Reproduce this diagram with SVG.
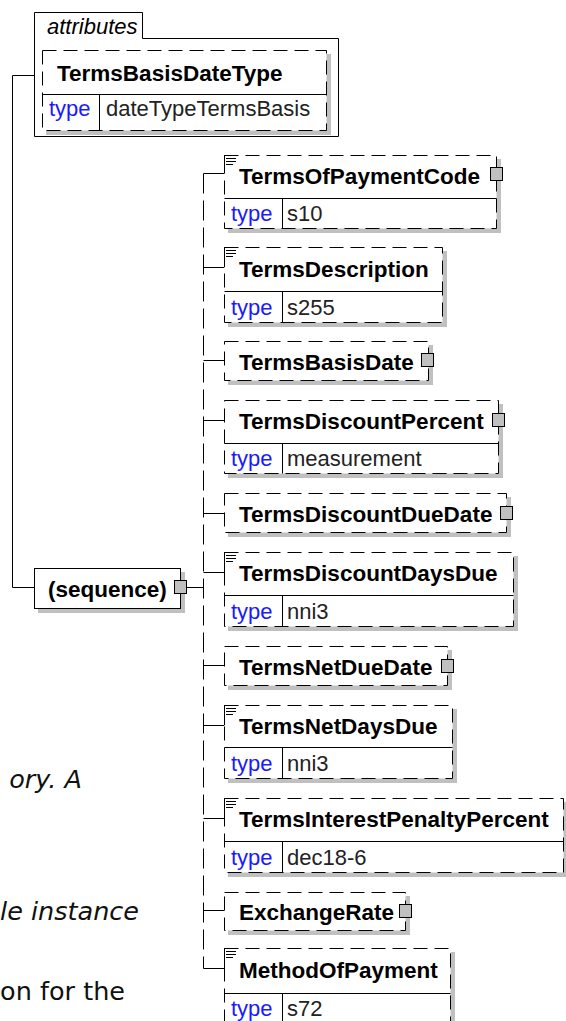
<svg xmlns="http://www.w3.org/2000/svg" width="566" height="1021" viewBox="0 0 566 1021">
<defs>
<style>
.ln{stroke:#000;stroke-width:1;fill:none}
.dl{stroke:#000;stroke-width:1;fill:none;stroke-dasharray:20 7}
.box{fill:#fff;stroke:#000;stroke-width:1;stroke-dasharray:14 7}
.sbox{fill:#fff;stroke:#000;stroke-width:1}
.sh{fill:#c0c0c0}
.sq{fill:#c0c0c0;stroke:#000;stroke-width:1}
.hd{font-family:"Liberation Sans",Arial,sans-serif;font-weight:bold;font-size:22.5px;fill:#000}
.tp{font-family:"Liberation Sans",Arial,sans-serif;font-size:22px;fill:#1a1aff}
.tv{font-family:"Liberation Sans",Arial,sans-serif;font-size:22px;fill:#222}
.it{font-family:"Liberation Sans",Arial,sans-serif;font-style:italic;font-size:22px;fill:#000}
.doc{font-family:"DejaVu Sans",Verdana,sans-serif;font-size:25.5px;fill:#111}
.note{stroke:#000;stroke-width:1;fill:none}
</style>
</defs>
<rect width="566" height="1021" fill="#fff"/>

<g id="doc-text">
<text class="doc" x="82" y="788" text-anchor="end" font-style="italic">ory. A</text>
<text class="doc" x="139" y="920" text-anchor="end" font-style="italic">le instance</text>
<text class="doc" x="125" y="1000" text-anchor="end">on for the</text>
</g>

<g id="connectors">
<path class="ln" d="M12.5 75.5 H34.5"/>
<path class="ln" d="M12.5 75.5 V587.5 H34.5"/>
<path class="ln" d="M186.5 587.5 H203.5"/>
<path class="dl" d="M203.5 173.5 V968.5"/>
<path class="ln" d="M203.5 173.5 H224.5 M203.5 267.5 H224.5 M203.5 360.5 H224.5 M203.5 420.5 H224.5 M203.5 513.5 H224.5 M203.5 572.5 H224.5 M203.5 665.5 H224.5 M203.5 725.5 H224.5 M203.5 818.5 H224.5 M203.5 910.5 H224.5 M203.5 968.5 H224.5"/>
</g>

<g id="attributes">
<path class="sbox" d="M34.5 12.5 H142.5 V38.5 H338.5 V136.5 H34.5 Z"/>
<text class="it" x="47" y="34">attributes</text>
<g id="TermsBasisDateType">
<rect class="sh" x="46" y="54" width="285" height="81"/>
<rect class="box" x="42.5" y="50.5" width="284" height="80"/>
<path class="ln" d="M42.5 94.5 H326.5 M99.5 94.5 V130.5"/>
<text class="hd" x="57" y="81">TermsBasisDateType</text>
<text class="tp" x="49" y="116">type</text>
<text class="tv" x="106" y="116">dateTypeTermsBasis</text>
</g>
</g>

<g id="sequence">
<rect class="sh" x="38" y="572" width="147" height="41"/>
<rect class="sbox" x="34.5" y="568.5" width="146" height="40"/>
<text class="hd" x="48" y="597">(sequence)</text>
<rect class="sq" x="174.5" y="580.5" width="12" height="13"/>
</g>

<g id="TermsOfPaymentCode">
<rect class="sh" x="228" y="159" width="273" height="74"/>
<rect class="box" x="224.5" y="155.5" width="272" height="73"/>
<path class="ln" d="M224.5 198.5 H496.5 M282.5 198.5 V228.5"/>
<rect x="223" y="153" width="15" height="12" fill="#fff"/>
<path class="note" d="M225 155.5 H238 M226 158.5 H236 M226 161.5 H236 M226 164.5 H233 M224.5 155 V173"/>
<text class="hd" x="239" y="184">TermsOfPaymentCode</text>
<text class="tp" x="231" y="221">type</text>
<text class="tv" x="287" y="221">s10</text>
<rect class="sq" x="490.5" y="167.5" width="12" height="13"/>
</g>

<g id="TermsDescription">
<rect class="sh" x="228" y="251" width="219" height="76"/>
<rect class="box" x="224.5" y="247.5" width="218" height="75"/>
<path class="ln" d="M224.5 291.5 H442.5 M282.5 291.5 V322.5"/>
<rect x="223" y="245" width="15" height="12" fill="#fff"/>
<path class="note" d="M225 247.5 H238 M226 250.5 H236 M226 253.5 H236 M226 256.5 H233 M224.5 247 V267"/>
<text class="hd" x="239" y="277">TermsDescription</text>
<text class="tp" x="231" y="315">type</text>
<text class="tv" x="287" y="315">s255</text>
</g>

<g id="TermsBasisDate">
<rect class="sh" x="228" y="345" width="205" height="40"/>
<rect class="box" x="224.5" y="341.5" width="204" height="39"/>
<text class="hd" x="239" y="370">TermsBasisDate</text>
<rect class="sq" x="421.5" y="353.5" width="12" height="13"/>
</g>

<g id="TermsDiscountPercent">
<rect class="sh" x="228" y="404" width="275" height="74"/>
<rect class="box" x="224.5" y="400.5" width="274" height="73"/>
<path class="ln" d="M224.5 443.5 H498.5 M282.5 443.5 V473.5"/>
<text class="hd" x="239" y="429">TermsDiscountPercent</text>
<text class="tp" x="231" y="466">type</text>
<text class="tv" x="287" y="466">measurement</text>
<rect class="sq" x="492.5" y="413.5" width="12" height="13"/>
</g>

<g id="TermsDiscountDueDate">
<rect class="sh" x="228" y="497" width="283" height="40"/>
<rect class="box" x="224.5" y="493.5" width="282" height="39"/>
<text class="hd" x="239" y="522">TermsDiscountDueDate</text>
<rect class="sq" x="500.5" y="506.5" width="12" height="13"/>
</g>

<g id="TermsDiscountDaysDue">
<rect class="sh" x="228" y="556" width="290" height="75"/>
<rect class="box" x="224.5" y="552.5" width="289" height="74"/>
<path class="ln" d="M224.5 595.5 H513.5 M282.5 595.5 V626.5"/>
<rect x="223" y="550" width="15" height="12" fill="#fff"/>
<path class="note" d="M225 552.5 H238 M226 555.5 H236 M226 558.5 H236 M226 561.5 H233 M224.5 552 V572"/>
<text class="hd" x="239" y="581">TermsDiscountDaysDue</text>
<text class="tp" x="231" y="619">type</text>
<text class="tv" x="287" y="619">nni3</text>
</g>

<g id="TermsNetDueDate">
<rect class="sh" x="228" y="650" width="224" height="40"/>
<rect class="box" x="224.5" y="646.5" width="223" height="39"/>
<text class="hd" x="239" y="675">TermsNetDueDate</text>
<rect class="sq" x="441.5" y="659.5" width="12" height="13"/>
</g>

<g id="TermsNetDaysDue">
<rect class="sh" x="228" y="709" width="229" height="74"/>
<rect class="box" x="224.5" y="705.5" width="228" height="73"/>
<path class="ln" d="M224.5 747.5 H452.5 M282.5 747.5 V778.5"/>
<rect x="223" y="703" width="15" height="12" fill="#fff"/>
<path class="note" d="M225 705.5 H238 M226 708.5 H236 M226 711.5 H236 M226 714.5 H233 M224.5 705 V725"/>
<text class="hd" x="239" y="734">TermsNetDaysDue</text>
<text class="tp" x="231" y="771">type</text>
<text class="tv" x="287" y="771">nni3</text>
</g>

<g id="TermsInterestPenaltyPercent">
<rect class="sh" x="228" y="802" width="340" height="75"/>
<rect class="box" x="224.5" y="798.5" width="339" height="74"/>
<path class="ln" d="M224.5 841.5 H563.5 M282.5 841.5 V872.5"/>
<rect x="223" y="796" width="15" height="12" fill="#fff"/>
<path class="note" d="M225 798.5 H238 M226 801.5 H236 M226 804.5 H236 M226 807.5 H233 M224.5 798 V818"/>
<text class="hd" x="239" y="827">TermsInterestPenaltyPercent</text>
<text class="tp" x="231" y="865">type</text>
<text class="tv" x="287" y="865">dec18-6</text>
</g>

<g id="ExchangeRate">
<rect class="sh" x="228" y="896" width="182" height="39"/>
<rect class="box" x="224.5" y="892.5" width="181" height="38"/>
<text class="hd" x="239" y="920">ExchangeRate</text>
<rect class="sq" x="399.5" y="904.5" width="12" height="13"/>
</g>

<g id="MethodOfPayment">
<rect class="sh" x="228" y="952" width="227" height="74"/>
<rect class="box" x="224.5" y="948.5" width="226" height="74"/>
<path class="ln" d="M224.5 993.5 H450.5 M282.5 993.5 V1022"/>
<rect x="223" y="946" width="15" height="12" fill="#fff"/>
<path class="note" d="M225 948.5 H238 M226 951.5 H236 M226 954.5 H236 M226 957.5 H233 M224.5 948 V968"/>
<text class="hd" x="239" y="978">MethodOfPayment</text>
<text class="tp" x="231" y="1016">type</text>
<text class="tv" x="287" y="1016">s72</text>
</g>
</svg>
